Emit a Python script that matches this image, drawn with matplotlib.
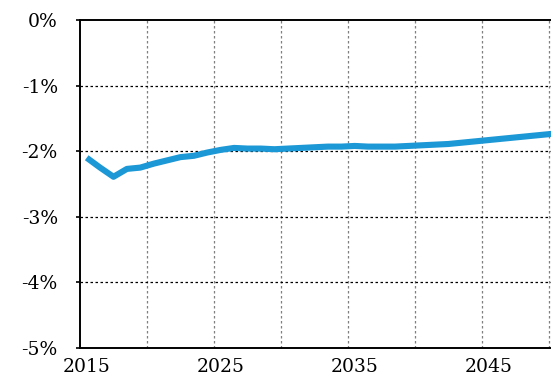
import numpy as np
import matplotlib
matplotlib.use('Agg')
import matplotlib.pyplot as plt

# Yearly change, percent
years = list(range(2015, 2051))
change = [-2.10, -2.25, -2.39, -2.27, -2.25, -2.19, -2.14, -2.09, -2.07, -2.02,
          -1.98, -1.95, -1.96, -1.96, -1.97, -1.96, -1.95, -1.94, -1.93, -1.93,
          -1.92, -1.93, -1.93, -1.93, -1.92, -1.91, -1.90, -1.89, -1.87, -1.85,
          -1.83, -1.81, -1.79, -1.77, -1.75, -1.73]

x_labels = [2015, 2025, 2035, 2045]
y_ticks = [0, -1, -2, -3, -4, -5]

plt.rcParams['font.family'] = ['DejaVu Serif']

fig = plt.figure(figsize=(5.51, 3.87), dpi=100)
# the plot area runs past the right edge of the figure
ax = fig.add_axes([80 / 551, 39 / 387, 482.4 / 551, 328 / 387])

ax.plot(years, change, color='#1B98D5', lw=4.4, solid_capstyle='butt', zorder=3)

ax.set_xlim(2014.5, 2050.5)
ax.set_ylim(-5, 0)

# dotted grid: vertical between year groups, horizontal at each percent
for gx in np.arange(2019.5, 2050, 5):
    ax.axvline(gx, color='#7f7f7f', lw=0.9, ls=(0, (2, 2)), zorder=1)
for gy in y_ticks[1:-1]:
    ax.axhline(gy, color='black', lw=0.9, ls=(0, (2, 2)), zorder=1)

ax.set_xticks(x_labels)
ax.set_xticklabels([str(v) for v in x_labels])
ax.set_yticks(y_ticks)
ax.set_yticklabels([f'{v}%' for v in y_ticks])
ax.tick_params(axis='x', length=0, pad=7.5, labelsize=13.5)
ax.tick_params(axis='y', length=3, width=1.2, pad=13, labelsize=13.5, direction='out')

for side in ['left', 'top', 'bottom']:
    ax.spines[side].set_linewidth(1.4)
ax.spines['right'].set_visible(False)

fig.savefig('out.png', dpi=100)
